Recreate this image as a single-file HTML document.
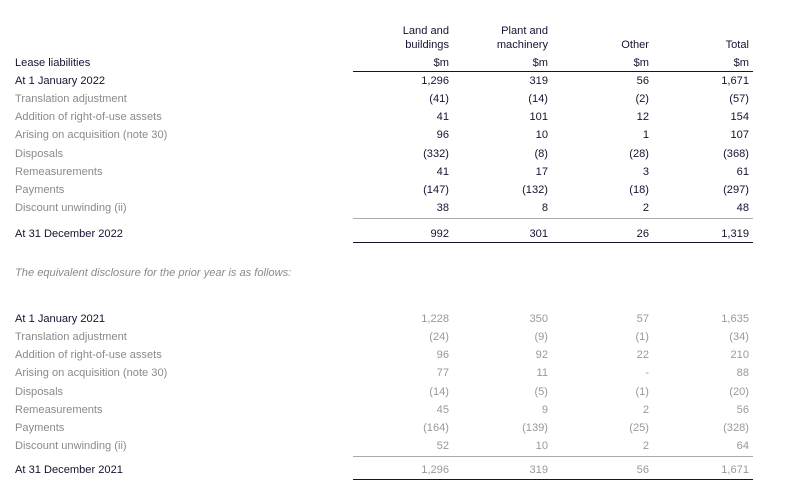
<!DOCTYPE html>
<html><head><style>
body{margin:0;width:800px;height:485px;background:#fff;font-family:"Liberation Sans",sans-serif;font-size:11.1px;position:relative;overflow:hidden}
.t{position:absolute;white-space:nowrap;line-height:12px}
.d{color:#141432}.g{color:#8a8a8a}.lg{color:#999}
.n{text-align:right;width:80px}
.hl{position:absolute;left:353px;width:400px;height:1px}
</style></head><body>
<div id="c"></div>
<script>
var H='';
function t(x,y,s,c,right){H+='<div class="t '+c+(right?' n':'')+'" style="'+(right?'left:'+(x-80):'left:'+x)+'px;top:'+(y-5)+'px">'+s+'</div>';}
var cols=[449,548,649,749];
t(cols[0],30,'Land and','d',1);t(cols[1],30,'Plant and','d',1);
t(cols[0],44,'buildings','d',1);t(cols[1],44,'machinery','d',1);t(cols[2],44,'Other','d',1);t(cols[3],44,'Total','d',1);
cols.forEach(function(c){t(c,62,'$m','d',1)});
t(15,62,'Lease liabilities','d');
var labels=['Translation adjustment','Addition of right-of-use assets','Arising on acquisition (note 30)','Disposals','Remeasurements','Payments','Discount unwinding (ii)'];
var A=[['1,296','319','56','1,671'],['(41)','(14)','(2)','(57)'],['41','101','12','154'],['96','10','1','107'],['(332)','(8)','(28)','(368)'],['41','17','3','61'],['(147)','(132)','(18)','(297)'],['38','8','2','48'],['992','301','26','1,319']];
var B=[['1,228','350','57','1,635'],['(24)','(9)','(1)','(34)'],['96','92','22','210'],['77','11','-','88'],['(14)','(5)','(1)','(20)'],['45','9','2','56'],['(164)','(139)','(25)','(328)'],['52','10','2','64'],['1,296','319','56','1,671']];
var ya=[80,98,116,134,153,171,189,207,233], yb=[318,336,354,372,391,409,427,445,469];
t(15,80,'At 1 January 2022','d');t(15,233,'At 31 December 2022','d');
t(15,318,'At 1 January 2021','d');t(15,469,'At 31 December 2021','d');
for(var i=0;i<7;i++){t(15,ya[i+1],labels[i],'g');t(15,yb[i+1],labels[i],'g');}
for(var r=0;r<9;r++)for(var c=0;c<4;c++){t(cols[c],ya[r],A[r][c],'d',1);t(cols[c],yb[r],B[r][c],'lg',1);}
H+='<div class="t" style="left:15px;top:267px;color:#8a8a8a;font-style:italic">The equivalent disclosure for the prior year is as follows:</div>';
H+='<div class="hl" style="top:71px;background:#141432"></div><div class="hl" style="top:218px;background:#aaa"></div><div class="hl" style="top:242px;background:#141432"></div>';
H+='<div class="hl" style="top:456px;background:#aaa"></div><div class="hl" style="top:479px;background:#141432"></div>';
document.getElementById('c').innerHTML=H;
</script>
</body></html>
